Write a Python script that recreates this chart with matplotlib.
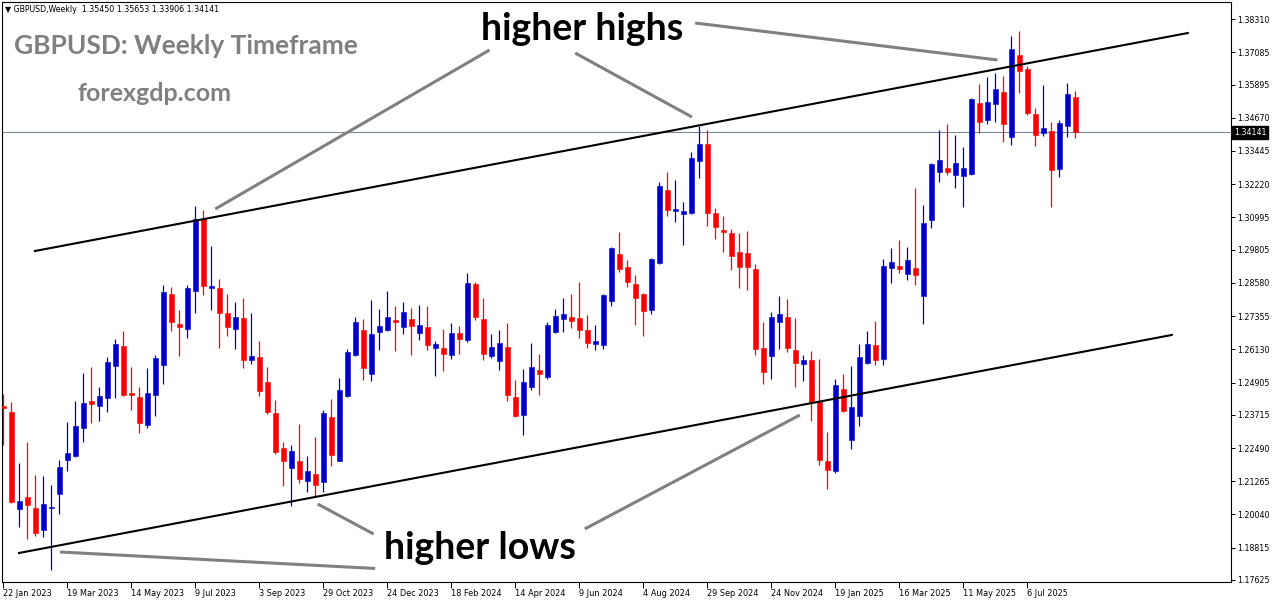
import numpy as np
import matplotlib
matplotlib.use('Agg')
import matplotlib.pyplot as plt

# weekly GBPUSD candles, 22 Jan 2023 onwards
opens = [1.24041, 1.23819, 1.20243, 1.20686, 1.20280, 1.19469, 1.20280, 1.20797, 1.22050, 1.22197,
         1.23230, 1.24225, 1.24041, 1.24337, 1.25517, 1.26254, 1.24521, 1.24374, 1.23341, 1.24448,
         1.25554, 1.28172, 1.27066, 1.26881, 1.28282, 1.30936, 1.28392, 1.28392, 1.27470, 1.26881,
         1.27286, 1.25738, 1.25848, 1.24926, 1.23782, 1.22492, 1.21755, 1.22013, 1.21275, 1.21534,
         1.21238, 1.23635, 1.22013, 1.24411, 1.25922, 1.26844, 1.25222, 1.26770, 1.26844, 1.27213,
         1.26955, 1.27249, 1.26733, 1.26955, 1.26180, 1.26180, 1.25922, 1.26733, 1.26475, 1.28540,
         1.27249, 1.25885, 1.25701, 1.26217, 1.24374, 1.23709, 1.24742, 1.25369, 1.25111, 1.26770,
         1.27249, 1.27323, 1.27286, 1.26844, 1.26328, 1.26291, 1.27913, 1.29646, 1.29167, 1.28540,
         1.28172, 1.27581, 1.29314, 1.32006, 1.31231, 1.31121, 1.31157, 1.33075, 1.33702, 1.31157,
         1.30531, 1.30420, 1.29719, 1.29682, 1.29093, 1.26180, 1.25885, 1.27139, 1.27323, 1.26106,
         1.25591, 1.25738, 1.24188, 1.22013, 1.21644, 1.24668, 1.22787, 1.23672, 1.25627, 1.26291,
         1.25774, 1.29130, 1.29204, 1.28909, 1.29130, 1.28098, 1.30900, 1.32669, 1.32817, 1.32559,
         1.32522, 1.32596, 1.35213, 1.34587, 1.35177, 1.35619, 1.33960, 1.36983, 1.36467, 1.34808,
         1.34107, 1.34181, 1.32780, 1.34366, 1.35450]
highs = [1.24485, 1.24188, 1.21939, 1.22713, 1.21497, 1.21460, 1.21128, 1.22050, 1.23451, 1.24225,
         1.25258, 1.25480, 1.24742, 1.25848, 1.26512, 1.26807, 1.25480, 1.24742, 1.25443, 1.25922,
         1.28503, 1.28429, 1.27581, 1.28503, 1.31416, 1.31268, 1.29941, 1.28724, 1.28172, 1.27876,
         1.28024, 1.27470, 1.26438, 1.25480, 1.24262, 1.22713, 1.22603, 1.23378, 1.22197, 1.22898,
         1.23893, 1.24300, 1.25074, 1.26143, 1.27323, 1.27249, 1.27950, 1.27618, 1.28282, 1.27729,
         1.27876, 1.27655, 1.27766, 1.27729, 1.26438, 1.26881, 1.27102, 1.26992, 1.28945, 1.28613,
         1.28024, 1.26697, 1.26844, 1.27102, 1.25000, 1.25406, 1.26364, 1.25959, 1.27139, 1.27618,
         1.28024, 1.28172, 1.28613, 1.27397, 1.27029, 1.28172, 1.29904, 1.30457, 1.29425, 1.28872,
         1.28200, 1.29480, 1.32300, 1.32669, 1.32374, 1.31563, 1.33406, 1.34366, 1.34218, 1.31342,
         1.31047, 1.30568, 1.30420, 1.30494, 1.29278, 1.27139, 1.27507, 1.28098, 1.27987, 1.27286,
         1.25922, 1.26069, 1.25774, 1.23082, 1.25037, 1.25222, 1.25517, 1.26328, 1.26807, 1.27176,
         1.29461, 1.29867, 1.30162, 1.29904, 1.32079, 1.31453, 1.33001, 1.34218, 1.34440, 1.34034,
         1.33591, 1.35398, 1.35914, 1.36172, 1.36319, 1.36209, 1.37684, 1.37868, 1.36578, 1.35029,
         1.35877, 1.34513, 1.34587, 1.35951, 1.35653]
lows = [1.22603, 1.20464, 1.19580, 1.19137, 1.19248, 1.19211, 1.17994, 1.20059, 1.21644, 1.22160,
        1.22713, 1.23414, 1.23488, 1.23819, 1.24337, 1.24411, 1.23893, 1.23045, 1.23230, 1.23672,
        1.24853, 1.26807, 1.25885, 1.26549, 1.27470, 1.28135, 1.27581, 1.26180, 1.26623, 1.26143,
        1.25443, 1.25591, 1.24411, 1.23746, 1.22271, 1.21091, 1.20354, 1.21201, 1.20870, 1.20686,
        1.20870, 1.21829, 1.22000, 1.24374, 1.25885, 1.25000, 1.24963, 1.26106, 1.26807, 1.26069,
        1.26697, 1.25922, 1.26475, 1.26106, 1.25148, 1.25332, 1.25774, 1.25959, 1.26401, 1.27213,
        1.25738, 1.25811, 1.25369, 1.24225, 1.23635, 1.22972, 1.24632, 1.24448, 1.25037, 1.26733,
        1.26770, 1.26918, 1.26549, 1.26180, 1.26106, 1.26143, 1.27729, 1.28982, 1.28429, 1.27029,
        1.26623, 1.27434, 1.29277, 1.31047, 1.30826, 1.29978, 1.31130, 1.32448, 1.30679, 1.30199,
        1.29719, 1.29056, 1.28392, 1.28319, 1.25922, 1.24853, 1.25037, 1.26143, 1.26032, 1.24742,
        1.24963, 1.23488, 1.21866, 1.20980, 1.21570, 1.23819, 1.22455, 1.23304, 1.25591, 1.25554,
        1.25554, 1.28576, 1.28945, 1.28687, 1.28503, 1.27066, 1.30605, 1.32300, 1.32559, 1.32079,
        1.31379, 1.32559, 1.34107, 1.34440, 1.34513, 1.33775, 1.33665, 1.35582, 1.34771, 1.33628,
        1.33997, 1.31379, 1.32485, 1.33960, 1.33906]
closes = [1.23967, 1.20501, 1.20538, 1.20391, 1.19358, 1.20428, 1.20317, 1.21792, 1.22307, 1.23304,
          1.24151, 1.24115, 1.24411, 1.25664, 1.26328, 1.24448, 1.24448, 1.23414, 1.24521, 1.25811,
          1.28245, 1.27139, 1.26955, 1.28392, 1.30936, 1.28466, 1.28466, 1.27470, 1.26955, 1.27323,
          1.25738, 1.25885, 1.24595, 1.23819, 1.22344, 1.22013, 1.22381, 1.21349, 1.21644, 1.21128,
          1.23782, 1.22234, 1.24632, 1.26032, 1.27139, 1.25443, 1.26697, 1.26992, 1.27323, 1.27139,
          1.27507, 1.26992, 1.27029, 1.26291, 1.26328, 1.25959, 1.26733, 1.26512, 1.28576, 1.27323,
          1.25959, 1.26217, 1.26364, 1.24448, 1.23672, 1.24926, 1.25480, 1.25222, 1.27029, 1.27360,
          1.27434, 1.27176, 1.26844, 1.26364, 1.26438, 1.28135, 1.29867, 1.29093, 1.28613, 1.28024,
          1.27544, 1.29461, 1.32153, 1.31268, 1.31305, 1.31231, 1.33185, 1.33702, 1.31157, 1.30642,
          1.30457, 1.29572, 1.29167, 1.29167, 1.26143, 1.25295, 1.27323, 1.27434, 1.26180, 1.25627,
          1.25738, 1.24188, 1.22050, 1.21681, 1.24816, 1.23856, 1.24004, 1.25848, 1.26328, 1.25738,
          1.29204, 1.29351, 1.29093, 1.29425, 1.28872, 1.30789, 1.32964, 1.33112, 1.32669, 1.33001,
          1.32817, 1.35361, 1.34513, 1.35250, 1.35729, 1.34440, 1.37204, 1.36393, 1.34844, 1.34034,
          1.34292, 1.32743, 1.34476, 1.35545, 1.34141]

date_labels = ['22 Jan 2023', '19 Mar 2023', '14 May 2023', '9 Jul 2023', '3 Sep 2023',
               '29 Oct 2023', '24 Dec 2023', '18 Feb 2024', '14 Apr 2024', '9 Jun 2024',
               '4 Aug 2024', '29 Sep 2024', '24 Nov 2024', '19 Jan 2025', '16 Mar 2025',
               '11 May 2025', '6 Jul 2025']
price_ticks = [1.38310, 1.37085, 1.35895, 1.34670, 1.33445, 1.32220, 1.30995, 1.29805, 1.28580,
               1.27355, 1.26130, 1.24905, 1.23715, 1.22490, 1.21265, 1.20040, 1.18815, 1.17625]

# channel lines (bar index, price)
upper_channel = ([3.96, 148.1], [1.29756, 1.37794])
lower_channel = ([1.96, 146.1], [1.18620, 1.26660])
# grey pointer lines
pointers = [([26.5, 60.8], [1.31305, 1.37167]),
            ([71.5, 86.1], [1.37056, 1.34697]),
            ([86.5, 124.3], [1.38163, 1.36799]),
            ([39.3, 46.3], [1.20428, 1.19322]),
            ([72.7, 99.6], [1.19506, 1.23709]),
            ([7.1, 46.5], [1.18657, 1.18050])]

W, H = 1276, 604
fig = plt.figure(figsize=(W / 100, H / 100), dpi=100)
ax = fig.add_axes([2 / W, 22 / H, 1229 / W, 580 / H])

o = np.array(opens)
h = np.array(highs)
l = np.array(lows)
c = np.array(closes)
x = np.arange(len(o))
up = c >= o
cols = np.where(up, '#0000CC', '#FF0000')

ax.axhline(closes[-1], color='#778899', lw=0.8, zorder=1)
ax.vlines(x, l, h, colors=cols, lw=0.9, zorder=2)
body_h = np.maximum(np.abs(c - o), 0.00025)
ax.bar(x, body_h, bottom=np.minimum(o, c), width=0.62, color=cols,
       edgecolor=cols, linewidth=0.4, zorder=3)

ax.plot(*upper_channel, color='black', lw=1.5, zorder=4)
ax.plot(*lower_channel, color='black', lw=1.5, zorder=4)
for xs, ys in pointers:
    ax.plot(xs, ys, color='#808080', lw=2.2, zorder=5, solid_capstyle='butt')

ax.set_xlim(-0.16, 153.5)
ax.set_ylim(1.17551, 1.38937)

ax.set_xticks(np.arange(0, 8 * len(date_labels), 8))
ax.set_xticklabels(date_labels, ha='left', fontsize=5.9)
ax.set_yticks(price_ticks)
ax.set_yticklabels(['%.5f' % v for v in price_ticks], fontsize=5.7)
ax.yaxis.tick_right()
ax.tick_params(axis='y', direction='out', length=3, width=0.7, pad=1.5)
ax.tick_params(axis='x', direction='out', length=4, width=0.7, pad=1)
for s in ax.spines.values():
    s.set_color('black')
    s.set_linewidth(0.8)

# current price box
ax.annotate('%.5f' % closes[-1], xy=(1.0, closes[-1]), xycoords=('axes fraction', 'data'),
            xytext=(2, 0), textcoords='offset points', ha='left', va='center',
            fontsize=5.7, color='white',
            bbox=dict(boxstyle='square,pad=0.25', fc='black', ec='black'), zorder=6)

def fx(px):
    return px / W

def fy(py):
    return 1 - py / H

fig.text(fx(5), fy(10), '\u25bc GBPUSD,Weekly  1.35450 1.35653 1.33906 1.34141',
         fontsize=5.7, color='black', va='center', ha='left')
fig.text(fx(14), fy(46), 'GBPUSD: Weekly Timeframe', family='Lato', weight='bold',
         fontsize=19, color='#808080', va='center', ha='left')
fig.text(fx(155), fy(93), 'forexgdp.com', family='Lato', weight='bold',
         fontsize=18, color='#808080', va='center', ha='center')
fig.text(fx(582), fy(29), 'higher highs', family='Lato', weight='bold',
         fontsize=27, color='black', va='center', ha='center')
fig.text(fx(480), fy(548), 'higher lows', family='Lato', weight='bold',
         fontsize=27, color='black', va='center', ha='center')

fig.savefig('out.png', dpi=100, facecolor='white')
